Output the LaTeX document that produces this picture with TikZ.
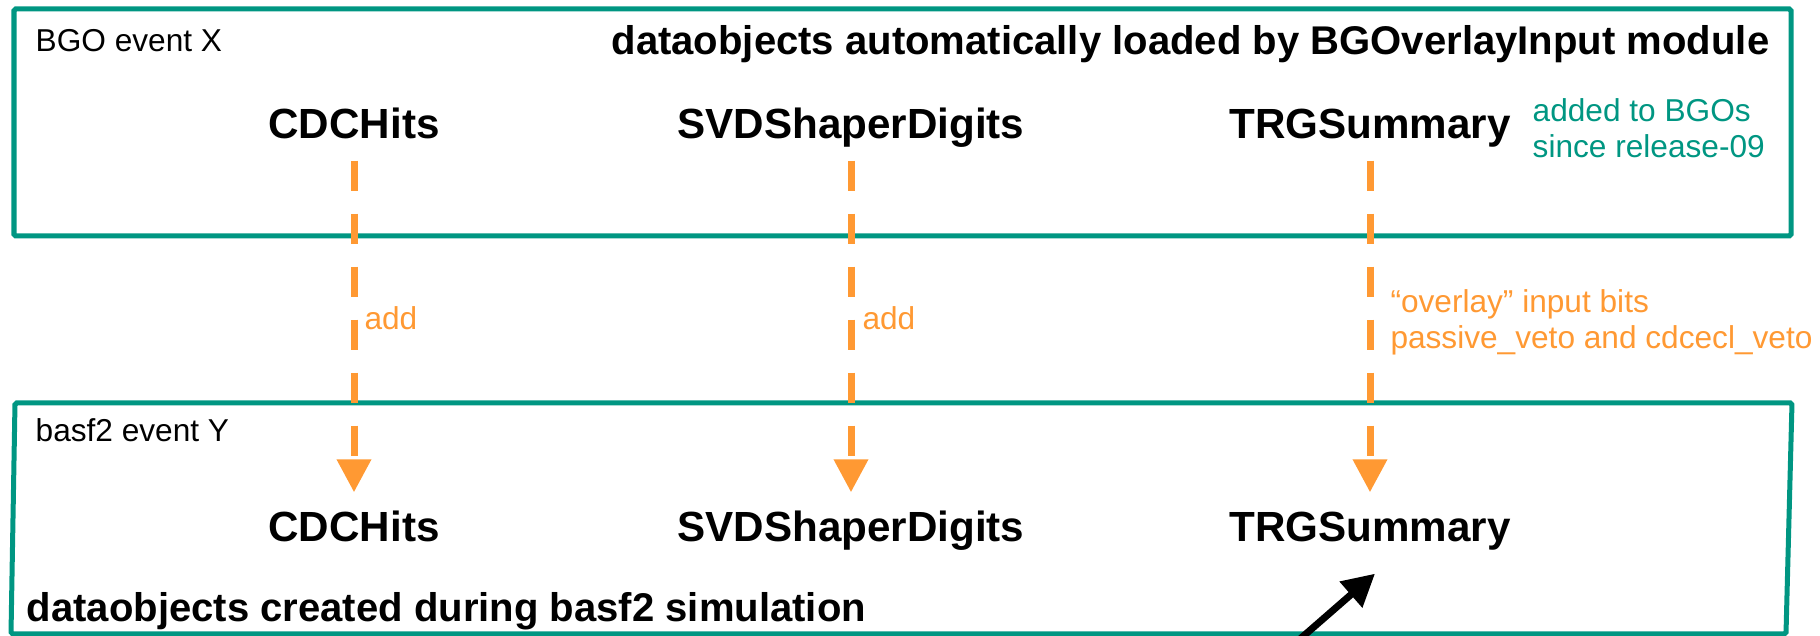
\documentclass[tikz,border=0pt]{standalone}
\usepackage{fontspec}
\setmainfont{Liberation Sans}
\usepackage{tikz}
\usetikzlibrary{arrows.meta}
\usepackage{xcolor}
\definecolor{bgoGreen}{RGB}{0, 150, 130}
\definecolor{addOrange}{RGB}{255, 153, 51}

\begin{document}
\begin{tikzpicture}[
  evtbox/.style={draw=bgoGreen, line width=0.05cm, rounded corners=0.5pt},
  objname/.style={font=\fontsize{12}{14}\selectfont\bfseries, inner sep=0pt,
    text height=0.31cm, text depth=0.09cm, anchor=base},
  heading/.style={font=\fontsize{11.4}{13.5}\selectfont\bfseries, inner sep=0pt},
  evtname/.style={font=\fontsize{9}{10.5}\selectfont, inner sep=0pt, anchor=base west},
  addlbl/.style={font=\fontsize{9}{10.25}\selectfont, text=addOrange, inner sep=0pt,
    anchor=west, align=left},
  overlayarrow/.style={draw=addOrange, line width=0.07cm, dash pattern=on 0.3cm off 0.23cm,
    -{Triangle[width=0.33cm, length=0.33cm]}, shorten <=0.12cm, shorten >=0.18cm},
  pointer/.style={line width=0.07cm, -{Triangle[width=0.33cm, length=0.32cm]}}
]
  \useasboundingbox (0,0) rectangle (18.2,6.36);

  % BGO event (top) and basf2 event (bottom)
  \draw[evtbox] (0.14,4.00) rectangle (17.91,6.27);
  \draw[evtbox] (0.15,2.33) -- (17.92,2.33) -- (17.86,0.02) -- (0.11,0.02) -- cycle;
  \node[evtname] (bgoName) at (0.35,5.84) {BGO event X};
  \node[evtname] (simName) at (0.35,1.94) {basf2 event Y};
  \node[heading, anchor=base east] (bgoHead) at (17.70,5.81)
    {dataobjects automatically loaded by BGOverlayInput module};
  \node[heading, anchor=base west] (simHead) at (0.26,0.14)
    {dataobjects created during basf2 simulation};

  % data objects in both events
  \foreach \obj/\x/\txt in {cdc/3.54/CDCHits, svd/8.51/SVDShaperDigits, trg/13.70/TRGSummary} {
    \node[objname] (\obj Top) at (\x,4.97) {\txt};
    \node[objname] (\obj Bot) at (\x,0.94) {\txt};
  }
  \node[addlbl, text=bgoGreen, anchor=base west] (trgNote) at (15.32,4.78)
    {added to BGOs\\since release-09};

  % overlay arrows
  \draw[overlayarrow] (cdcTop.south) -- node[addlbl, pos=0.47, xshift=0.07cm] (cdcAdd) {add} (cdcBot.north);
  \draw[overlayarrow] (svdTop.south) -- node[addlbl, pos=0.47, xshift=0.08cm] (svdAdd) {add} (svdBot.north);
  \draw[overlayarrow] (trgTop.south) -- node[addlbl, pos=0.48, xshift=0.17cm] (trgBits)
    {“overlay” input bits\\passive\_veto and cdcecl\_veto} (trgBot.north);

  % pointer from below
  \coordinate (pointerStart) at (12.76,-0.24);
  \draw[pointer] (pointerStart) -- ([xshift=0.05cm, yshift=-0.22cm]trgBot.south);
\end{tikzpicture}
\end{document}
